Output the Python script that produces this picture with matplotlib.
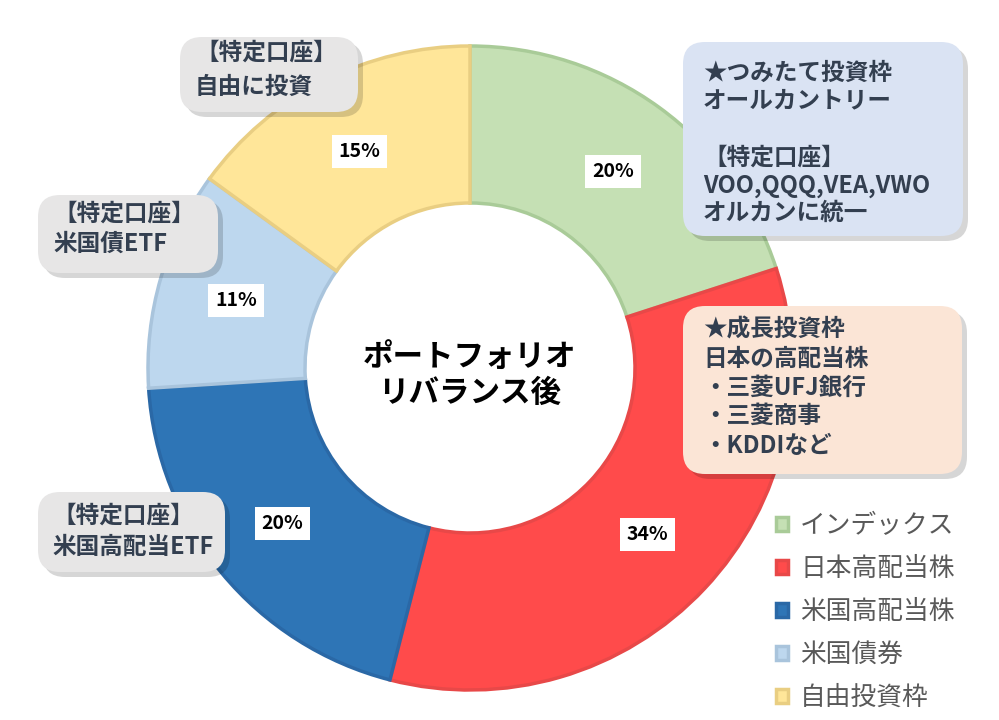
import matplotlib
matplotlib.use("Agg")
from matplotlib import pyplot as plt
from matplotlib.patches import FancyBboxPatch

# data
labels = ["インデックス", "日本高配当株", "米国高配当株", "米国債券", "自由投資枠"]
shares = [20, 34, 20, 11, 15]
fills = ["#C5E0B4", "#FF4B4B", "#2E75B6", "#BDD7EE", "#FFE699"]
edges = ["#A9CB98", "#E84848", "#2A68A6", "#A9C4DC", "#E9CE82"]

center_title = ["ポートフォリオ", "リバランス後"]

notes_tr = ["★つみたて投資枠", "オールカントリー", "", "【特定口座】", "VOO,QQQ,VEA,VWO", "オルカンに統一"]
notes_r = ["★成長投資枠", "日本の高配当株", "・三菱UFJ銀行", "・三菱商事", "・KDDIなど"]
notes_tl = ["【特定口座】", "自由に投資"]
notes_l = ["【特定口座】", "米国債ETF"]
notes_bl = ["【特定口座】", "米国高配当ETF"]

W, H = 999, 720
plt.rcParams['font.family'] = ['Noto Sans CJK JP', 'DejaVu Sans']


def py(y):
    # pixel row (from top) -> data y
    return H - y


def note_box(ax, x0, y0, x1, y1, color, lines, tx, ys):
    sh = FancyBboxPatch((x0 + 5, py(y1) - 5), x1 - x0, y1 - y0,
                        boxstyle="round,pad=0,rounding_size=22",
                        fc="#000000", ec="none", alpha=0.16, zorder=4)
    ax.add_patch(sh)
    box = FancyBboxPatch((x0, py(y1)), x1 - x0, y1 - y0,
                         boxstyle="round,pad=0,rounding_size=22",
                         fc=color, ec="none", zorder=5)
    ax.add_patch(box)
    for line, y in zip(lines, ys):
        if line:
            ax.text(tx, py(y), line, fontsize=17, fontweight="bold",
                    color="#333F50", ha="left", va="center", zorder=6)


def main():
    fig = plt.figure(figsize=(W / 100, H / 100), dpi=100)
    ax = fig.add_axes([0, 0, 1, 1])

    cx, cy, r_out, r_in = 470, py(368), 322, 165
    wedges, _, pcts = ax.pie(
        shares, colors=fills, startangle=90, counterclock=False,
        center=(cx, cy), radius=r_out, autopct="%d%%",
        pctdistance=(r_out + r_in) / 2 / r_out,
        wedgeprops=dict(width=r_out - r_in, linewidth=2.5),
        textprops=dict(fontsize=14, fontweight="bold", color="black"))
    for w, ec in zip(wedges, edges):
        w.set_edgecolor(ec)
    for t in pcts:
        t.set_bbox(dict(fc="white", ec="none", pad=5))

    ax.set_xlim(0, W)
    ax.set_ylim(0, H)
    ax.set_aspect("equal")
    ax.axis("off")

    ax.text(cx, py(357), center_title[0], fontsize=22, fontweight="bold",
            ha="center", va="center", color="black")
    ax.text(cx, py(393), center_title[1], fontsize=22, fontweight="bold",
            ha="center", va="center", color="black")

    note_box(ax, 683, 42, 963, 236, "#DAE3F3", notes_tr, 703, [73, 100, 129, 158, 186, 213])
    note_box(ax, 683, 306, 962, 474, "#FBE5D6", notes_r, 703, [330, 359, 388, 416, 446])
    note_box(ax, 180, 37, 358, 112, "#E7E6E6", notes_tl, 195, [53, 87])
    note_box(ax, 38, 195, 218, 273, "#E7E6E6", notes_l, 53, [214, 244])
    note_box(ax, 38, 492, 225, 572, "#E7E6E6", notes_bl, 52, [516, 547])

    leg = ax.legend(wedges, labels, loc="upper left", bbox_to_anchor=(776 / W, 1 - 513 / H),
                    frameon=False, fontsize=18.5, handlelength=0.47, handleheight=0.47,
                    handletextpad=0.47, labelspacing=0.66, borderpad=0, borderaxespad=0)
    for t in leg.get_texts():
        t.set_color("#595959")

    fig.savefig("out.png", dpi=100)


if __name__ == "__main__":
    main()
